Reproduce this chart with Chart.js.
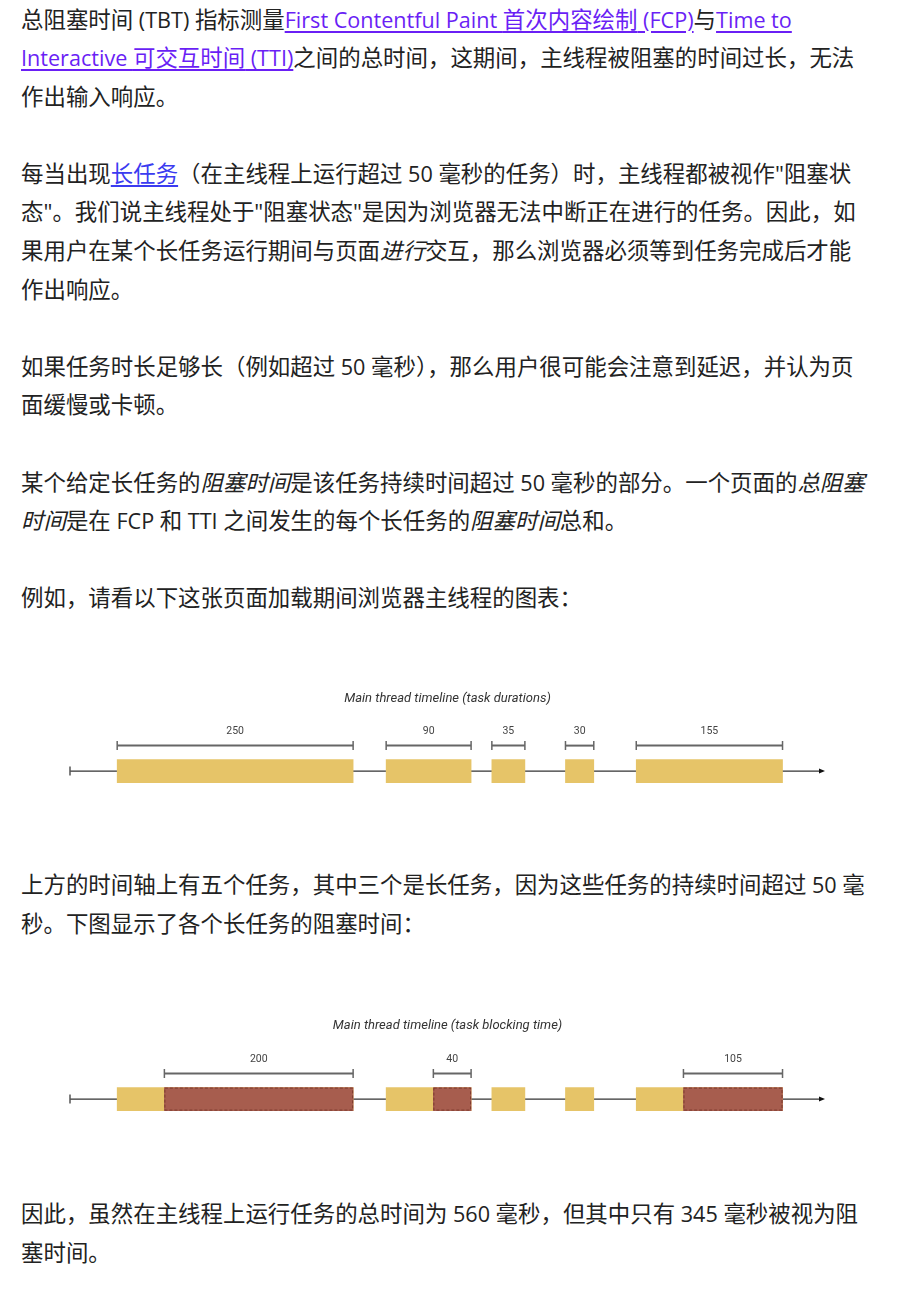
<!DOCTYPE html>
<html lang="zh-CN">
<head>
<meta charset="utf-8">
<title>总阻塞时间 (TBT)</title>
<script src="https://cdn.jsdelivr.net/npm/chart.js@4/dist/chart.umd.min.js"></script>
<style>
  html, body { margin: 0; padding: 0; background: #fff; overflow: hidden; }
  body {
    width: 898px;
    font-family: "Open Sans", "Noto Sans CJK SC", sans-serif;
    font-size: 22.45px;
    line-height: 38.6px;
    color: #222;
  }
  p { margin: 0 0 38.6px; padding-left: 21px; white-space: nowrap; }
  .l { font-size: 21.6px; line-height: 1; }
  a { color: #6a1ff5; text-decoration: underline; text-underline-offset: 3px; }
  a.blue { color: #3b3bf0; }
  em { font-style: italic; }
  .fig { position: relative; width: 898px; margin: 0; }
  #fig1 { height: 248px; margin-top: -38.6px; }
  #fig2 { height: 252px; margin-top: -38.6px; }
  .after { margin-top: 0; }
</style>
</head>
<body>

<p style="margin-top:0.5px">总阻塞时间<span class="l"> (TBT) </span>指标测量<a href="#"><span class="l">First Contentful Paint </span>首次内容绘制<span class="l"> (FCP)</span></a>与<a href="#"><span class="l">Time to<br>Interactive </span>可交互时间<span class="l"> (TTI)</span></a>之间的总时间，这期间，主线程被阻塞的时间过长，无法<br>作出输入响应。</p>

<p>每当出现<a class="blue" href="#">长任务</a>（在主线程上运行超过<span class="l"> 50 </span>毫秒的任务）时，主线程都被视作"阻塞状<br>态"。我们说主线程处于"阻塞状态"是因为浏览器无法中断正在进行的任务。因此，如<br>果用户在某个长任务运行期间与页面<em>进行</em>交互，那么浏览器必须等到任务完成后才能<br>作出响应。</p>

<p>如果任务时长足够长（例如超过<span class="l"> 50 </span>毫秒），那么用户很可能会注意到延迟，并认为页<br>面缓慢或卡顿。</p>

<p>某个给定长任务的<em>阻塞时间</em>是该任务持续时间超过<span class="l"> 50 </span>毫秒的部分。一个页面的<em>总阻塞<br>时间</em>是在<span class="l"> FCP </span>和<span class="l"> TTI </span>之间发生的每个长任务的<em>阻塞时间</em>总和。</p>

<p>例如，请看以下这张页面加载期间浏览器主线程的图表：</p>

<div class="fig" id="fig1"><canvas id="chart1"></canvas></div>

<p class="after">上方的时间轴上有五个任务，其中三个是长任务，因为这些任务的持续时间超过<span class="l"> 50 </span>毫<br>秒。下图显示了各个长任务的阻塞时间：</p>

<div class="fig" id="fig2"><canvas id="chart2"></canvas></div>

<p class="after">因此，虽然在主线程上运行任务的总时间为<span class="l"> 560 </span>毫秒，但其中只有<span class="l"> 345 </span>毫秒被视为阻<br>塞时间。</p>

<script>
// timeline data (ms)
const taskStart = [50, 335, 447, 525, 600];
const taskDuration = [250, 90, 35, 30, 155];
const blockingTime = [200, 40, 0, 0, 105];
const timelineEnd = 800;
const chartTitles = ['Main thread timeline (task durations)', 'Main thread timeline (task blocking time)'];

const taskColor = '#e6c468';
const blockColor = '#a75d4e';

function taskBars() {
    return taskStart.map(function(s, i) {
        return { y: 'main', x: [s, s + taskDuration[i]] };
    });
}

function blockingBars() {
    let out = [];
    taskStart.forEach(function(s, i) {
        if (blockingTime[i] > 0) {
            let end = s + taskDuration[i];
            out.push({ y: 'main', x: [end - blockingTime[i], end] });
        }
    });
    return out;
}

// draws the time axis under the bars, and the brackets + labels above them
function timelinePlugin(bracketDataset, bracketLabels, dashedDataset) {
    return {
        id: 'timeline',
        beforeDatasetsDraw(chart) {
            const ctx = chart.ctx;
            const xs = chart.scales.x;
            const y = chart.scales.y.getPixelForValue(0);
            const x0 = xs.getPixelForValue(0);
            const x1 = xs.getPixelForValue(timelineEnd);
            ctx.save();
            ctx.strokeStyle = '#333';
            ctx.lineWidth = 1.2;
            ctx.beginPath();
            ctx.moveTo(x0, y);
            ctx.lineTo(x1 - 4, y);
            ctx.stroke();
            ctx.strokeStyle = '#555';
            ctx.lineWidth = 1.5;
            ctx.beginPath();
            ctx.moveTo(x0, y - 4.5);
            ctx.lineTo(x0, y + 4.5);
            ctx.stroke();
            ctx.fillStyle = '#111';
            ctx.beginPath();
            ctx.moveTo(x1, y);
            ctx.lineTo(x1 - 6, y - 2.5);
            ctx.lineTo(x1 - 6, y + 2.5);
            ctx.closePath();
            ctx.fill();
            ctx.restore();
        },
        afterDraw(chart) {
            const ctx = chart.ctx;
            ctx.save();
            if (dashedDataset !== null) {
                chart.getDatasetMeta(dashedDataset).data.forEach(function(bar) {
                    const l = Math.min(bar.x, bar.base), r = Math.max(bar.x, bar.base);
                    const t = bar.y - bar.height / 2;
                    ctx.strokeStyle = 'rgba(110, 45, 35, 0.75)';
                    ctx.lineWidth = 1;
                    ctx.setLineDash([3, 2]);
                    ctx.strokeRect(l + 0.5, t + 0.5, r - l - 1, bar.height - 1);
                });
                ctx.setLineDash([]);
            }
            chart.getDatasetMeta(bracketDataset).data.forEach(function(bar, i) {
                const l = Math.min(bar.x, bar.base), r = Math.max(bar.x, bar.base);
                const by = bar.y - bar.height / 2 - 14;
                ctx.strokeStyle = '#666';
                ctx.lineWidth = 2;
                ctx.beginPath();
                ctx.moveTo(l, by);
                ctx.lineTo(r, by);
                ctx.stroke();
                ctx.lineWidth = 1.5;
                ctx.beginPath();
                ctx.moveTo(l, by - 4.5);
                ctx.lineTo(l, by + 4.5);
                ctx.moveTo(r, by - 4.5);
                ctx.lineTo(r, by + 4.5);
                ctx.stroke();
                ctx.fillStyle = '#444';
                ctx.font = '10.5px Roboto';
                ctx.textAlign = 'center';
                ctx.textBaseline = 'middle';
                ctx.fillText(String(bracketLabels[i]), (l + r) / 2, by - 14);
            });
            ctx.restore();
        }
    };
}

function makeConfig(datasets, title, titleTop, plugin) {
    return {
        type: 'bar',
        data: { labels: ['main'], datasets: datasets },
        options: {
            indexAxis: 'y',
            responsive: true,
            maintainAspectRatio: false,
            animation: false,
            layout: { padding: { left: 70, right: 73, top: 2, bottom: 57 } },
            scales: {
                x: { type: 'linear', min: 0, max: timelineEnd, display: false },
                y: { type: 'category', display: false }
            },
            plugins: {
                legend: { display: false },
                tooltip: { enabled: false },
                title: {
                    display: true,
                    text: title,
                    color: '#333',
                    font: { family: 'Roboto', size: 13, style: 'italic', weight: 'normal' },
                    padding: { top: titleTop, bottom: 26.8 }
                }
            }
        },
        plugins: [plugin]
    };
}

const barStyle = { barThickness: 23, grouped: false, borderWidth: 0, borderSkipped: false };

new Chart(document.getElementById('chart1'), makeConfig([
    Object.assign({ label: 'tasks', data: taskBars(), backgroundColor: taskColor, order: 2 }, barStyle)
], chartTitles[0], 70.8, timelinePlugin(0, taskDuration, null)));

new Chart(document.getElementById('chart2'), makeConfig([
    Object.assign({ label: 'tasks', data: taskBars(), backgroundColor: taskColor, order: 2 }, barStyle),
    Object.assign({ label: 'blocking', data: blockingBars(), backgroundColor: blockColor, order: 1 }, barStyle)
], chartTitles[1], 72.8, timelinePlugin(1, blockingTime.filter(function(b) { return b > 0; }), 1)));
</script>
</body>
</html>
